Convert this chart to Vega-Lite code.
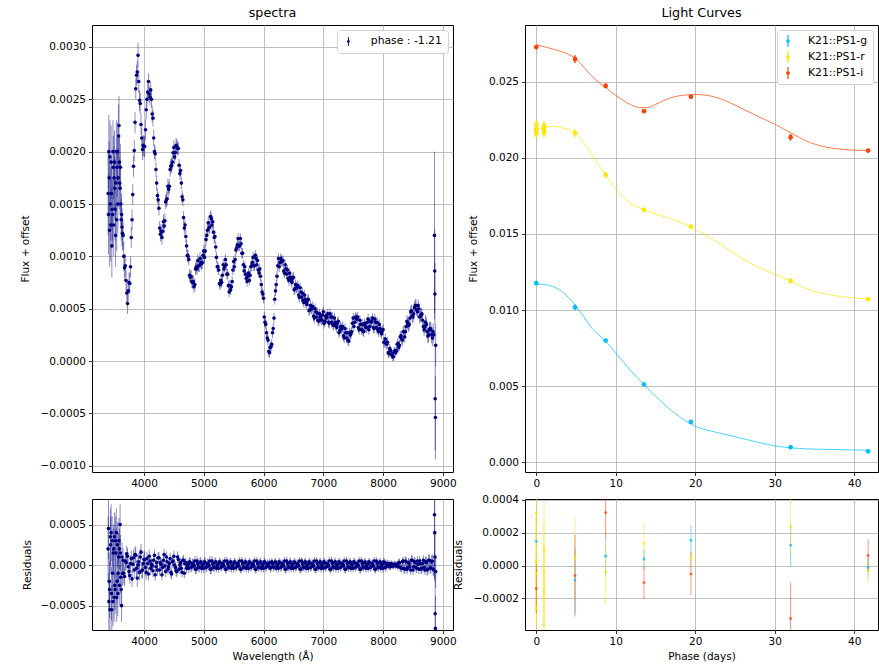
{
  "$schema": "https://vega.github.io/schema/vega-lite/v6.json",
  "background": "white",
  "padding": {"left": 19, "top": 6, "right": 0, "bottom": 0},
  "config": {
    "font": "DejaVu Sans",
    "view": {"stroke": "#000000", "strokeWidth": 1},
    "axis": {
      "labelFont": "DejaVu Sans", "labelFontSize": 10.5, "labelColor": "#000000",
      "tickColor": "#000000", "tickSize": 3.5, "tickWidth": 0.8, "domain": false,
      "grid": true, "gridColor": "#b0b0b0", "gridWidth": 0.8,
      "titleFont": "DejaVu Sans", "titleFontSize": 10.5, "titleFontWeight": "normal", "titleColor": "#000000",
      "labelPadding": 3
    },
    "title": {"font": "DejaVu Sans", "fontSize": 12.75, "fontWeight": "normal", "color": "#000000", "offset": 5, "anchor": "middle", "frame": "group"},
    "legend": {
      "labelFont": "DejaVu Sans", "labelFontSize": 10.8, "labelColor": "#000000",
      "strokeColor": "#d0d0d0", "fillColor": "#ffffff", "cornerRadius": 3, "padding": 5,
      "symbolOpacity": 1, "symbolStrokeWidth": 0
    }
  },
  "datasets": {
    "spec": [
      {"w":3400,"f":0.00160,"e":0.00040,"r":0.00020},
      {"w":3412,"f":0.00200,"e":0.00035,"r":-0.00045},
      {"w":3425,"f":0.00125,"e":0.00035,"r":-0.00030},
      {"w":3437,"f":0.00150,"e":0.00035,"r":0.00035},
      {"w":3450,"f":0.00190,"e":0.00035,"r":0.00040},
      {"w":3462,"f":0.00110,"e":0.00030,"r":-0.00055},
      {"w":3475,"f":0.00140,"e":0.00030,"r":-0.00010},
      {"w":3487,"f":0.00185,"e":0.00030,"r":0.00015},
      {"w":3500,"f":0.00175,"e":0.00030,"r":-0.00040},
      {"w":3512,"f":0.00165,"e":0.00030,"r":-0.00025},
      {"w":3525,"f":0.00120,"e":0.00030,"r":0.00030},
      {"w":3537,"f":0.00200,"e":0.00030,"r":0.00040},
      {"w":3550,"f":0.00185,"e":0.00028,"r":-0.00020},
      {"w":3562,"f":0.00150,"e":0.00028,"r":-0.00035},
      {"w":3575,"f":0.00215,"e":0.00030,"r":0.00010},
      {"w":3587,"f":0.00190,"e":0.00025,"r":0.00020},
      {"w":3600,"f":0.00165,"e":0.00025,"r":0.00050},
      {"w":3612,"f":0.00150,"e":0.00020,"r":-0.00015},
      {"w":3625,"f":0.00140,"e":0.00020,"r":-0.00050},
      {"w":3406,"f":0.00140,"e":0.00038,"r":0.00045},
      {"w":3418,"f":0.00175,"e":0.00035,"r":-0.00020},
      {"w":3431,"f":0.00195,"e":0.00035,"r":-0.00055},
      {"w":3443,"f":0.00130,"e":0.00035,"r":0.00025},
      {"w":3456,"f":0.00160,"e":0.00033,"r":-0.00035},
      {"w":3468,"f":0.00145,"e":0.00030,"r":0.00030},
      {"w":3481,"f":0.00200,"e":0.00030,"r":-0.00045},
      {"w":3493,"f":0.00130,"e":0.00030,"r":0.00020},
      {"w":3506,"f":0.00190,"e":0.00030,"r":0.00035},
      {"w":3518,"f":0.00145,"e":0.00030,"r":-0.00030},
      {"w":3531,"f":0.00170,"e":0.00030,"r":0.00015},
      {"w":3543,"f":0.00135,"e":0.00030,"r":-0.00040},
      {"w":3556,"f":0.00200,"e":0.00028,"r":0.00025},
      {"w":3568,"f":0.00175,"e":0.00028,"r":-0.00010},
      {"w":3581,"f":0.00225,"e":0.00028,"r":0.00030},
      {"w":3593,"f":0.00170,"e":0.00025,"r":-0.00025},
      {"w":3606,"f":0.00185,"e":0.00022,"r":0.00015},
      {"w":3618,"f":0.00135,"e":0.00020,"r":-0.00030},
      {"w":3631,"f":0.00128,"e":0.00018,"r":0.00010},
      {"w":3640,"f":0.00122,"e":0.00016,"r":-0.00010},
      {"w":3650,"f":0.00120,"e":0.00015,"r":0.00006},
      {"w":3675,"f":0.00089,"e":0.00012,"r":-0.00014},
      {"w":3700,"f":0.00077,"e":0.00010,"r":0.00003},
      {"w":3725,"f":0.00055,"e":0.00010,"r":0.00011},
      {"w":3750,"f":0.00075,"e":0.00010,"r":-0.00008},
      {"w":3775,"f":0.00090,"e":0.00010,"r":0.00002},
      {"w":3800,"f":0.00135,"e":0.00010,"r":-0.00017},
      {"w":3825,"f":0.00186,"e":0.00010,"r":0.00009},
      {"w":3850,"f":0.00228,"e":0.00010,"r":0.00013},
      {"w":3875,"f":0.00273,"e":0.00010,"r":-0.00004},
      {"w":3900,"f":0.00292,"e":0.00012,"r":0.00000},
      {"w":3925,"f":0.00249,"e":0.00010,"r":-0.00009},
      {"w":3950,"f":0.00226,"e":0.00010,"r":0.00016},
      {"w":3975,"f":0.00202,"e":0.00010,"r":-0.00006},
      {"w":4000,"f":0.00205,"e":0.00010,"r":0.00007},
      {"w":4025,"f":0.00221,"e":0.00010,"r":-0.00003},
      {"w":4050,"f":0.00250,"e":0.00008,"r":0.00008},
      {"w":4075,"f":0.00267,"e":0.00008,"r":-0.00011},
      {"w":4100,"f":0.00252,"e":0.00008,"r":0.00005},
      {"w":4125,"f":0.00250,"e":0.00008,"r":0.00001},
      {"w":4150,"f":0.00232,"e":0.00008,"r":-0.00007},
      {"w":4175,"f":0.00200,"e":0.00007,"r":0.00012},
      {"w":4200,"f":0.00183,"e":0.00007,"r":-0.00002},
      {"w":4225,"f":0.00158,"e":0.00007,"r":-0.00006},
      {"w":4250,"f":0.00146,"e":0.00007,"r":0.00009},
      {"w":4275,"f":0.00121,"e":0.00007,"r":0.00003},
      {"w":4300,"f":0.00118,"e":0.00007,"r":-0.00012},
      {"w":4325,"f":0.00133,"e":0.00007,"r":0.00006},
      {"w":4350,"f":0.00134,"e":0.00007,"r":-0.00001},
      {"w":4375,"f":0.00154,"e":0.00007,"r":0.00010},
      {"w":4400,"f":0.00167,"e":0.00007,"r":-0.00005},
      {"w":4425,"f":0.00167,"e":0.00007,"r":0.00002},
      {"w":4450,"f":0.00186,"e":0.00007,"r":-0.00009},
      {"w":4475,"f":0.00190,"e":0.00007,"r":0.00004},
      {"w":4500,"f":0.00204,"e":0.00007,"r":0.00011},
      {"w":4525,"f":0.00199,"e":0.00007,"r":-0.00003},
      {"w":4550,"f":0.00205,"e":0.00007,"r":-0.00008},
      {"w":4575,"f":0.00203,"e":0.00006,"r":0.00007},
      {"w":4600,"f":0.00179,"e":0.00006,"r":0.00000},
      {"w":4625,"f":0.00170,"e":0.00006,"r":-0.00004},
      {"w":4650,"f":0.00154,"e":0.00006,"r":0.00006},
      {"w":4675,"f":0.00127,"e":0.00006,"r":-0.00010},
      {"w":4700,"f":0.00119,"e":0.00006,"r":0.00003},
      {"w":4725,"f":0.00101,"e":0.00006,"r":-0.00001},
      {"w":4750,"f":0.00097,"e":0.00006,"r":-0.00004},
      {"w":4775,"f":0.00080,"e":0.00006,"r":0.00003},
      {"w":4800,"f":0.00076,"e":0.00006,"r":-0.00002},
      {"w":4825,"f":0.00076,"e":0.00006,"r":0.00001},
      {"w":4850,"f":0.00073,"e":0.00006,"r":0.00005},
      {"w":4875,"f":0.00090,"e":0.00006,"r":-0.00005},
      {"w":4900,"f":0.00096,"e":0.00006,"r":0.00002},
      {"w":4925,"f":0.00091,"e":0.00006,"r":-0.00003},
      {"w":4950,"f":0.00094,"e":0.00006,"r":0.00004},
      {"w":4975,"f":0.00094,"e":0.00006,"r":-0.00001},
      {"w":5000,"f":0.00105,"e":0.00006,"r":-0.00004},
      {"w":5025,"f":0.00105,"e":0.00006,"r":0.00003},
      {"w":5050,"f":0.00120,"e":0.00006,"r":-0.00002},
      {"w":5075,"f":0.00132,"e":0.00006,"r":0.00001},
      {"w":5100,"f":0.00128,"e":0.00006,"r":0.00005},
      {"w":5125,"f":0.00136,"e":0.00006,"r":-0.00005},
      {"w":5150,"f":0.00133,"e":0.00006,"r":0.00002},
      {"w":5175,"f":0.00118,"e":0.00006,"r":-0.00003},
      {"w":5200,"f":0.00109,"e":0.00005,"r":0.00004},
      {"w":5225,"f":0.00090,"e":0.00005,"r":-0.00001},
      {"w":5250,"f":0.00087,"e":0.00005,"r":-0.00004},
      {"w":5275,"f":0.00073,"e":0.00005,"r":0.00003},
      {"w":5300,"f":0.00075,"e":0.00005,"r":-0.00002},
      {"w":5325,"f":0.00092,"e":0.00005,"r":0.00001},
      {"w":5350,"f":0.00090,"e":0.00005,"r":0.00005},
      {"w":5375,"f":0.00092,"e":0.00005,"r":-0.00005},
      {"w":5400,"f":0.00083,"e":0.00005,"r":0.00002},
      {"w":5425,"f":0.00066,"e":0.00005,"r":-0.00003},
      {"w":5450,"f":0.00068,"e":0.00005,"r":0.00004},
      {"w":5475,"f":0.00076,"e":0.00005,"r":-0.00001},
      {"w":5500,"f":0.00095,"e":0.00005,"r":-0.00004},
      {"w":5525,"f":0.00097,"e":0.00005,"r":0.00003},
      {"w":5550,"f":0.00108,"e":0.00005,"r":-0.00002},
      {"w":5575,"f":0.00117,"e":0.00005,"r":0.00001},
      {"w":5600,"f":0.00110,"e":0.00005,"r":0.00005},
      {"w":5625,"f":0.00112,"e":0.00005,"r":-0.00005},
      {"w":5650,"f":0.00103,"e":0.00005,"r":0.00002},
      {"w":5675,"f":0.00086,"e":0.00005,"r":-0.00003},
      {"w":5700,"f":0.00083,"e":0.00005,"r":0.00004},
      {"w":5725,"f":0.00076,"e":0.00005,"r":-0.00001},
      {"w":5750,"f":0.00084,"e":0.00005,"r":-0.00004},
      {"w":5775,"f":0.00082,"e":0.00005,"r":0.00003},
      {"w":5800,"f":0.00091,"e":0.00005,"r":-0.00002},
      {"w":5825,"f":0.00099,"e":0.00005,"r":0.00001},
      {"w":5850,"f":0.00091,"e":0.00005,"r":0.00005},
      {"w":5875,"f":0.00098,"e":0.00005,"r":-0.00005},
      {"w":5900,"f":0.00096,"e":0.00005,"r":0.00002},
      {"w":5925,"f":0.00084,"e":0.00005,"r":-0.00003},
      {"w":5950,"f":0.00081,"e":0.00005,"r":0.00004},
      {"w":5975,"f":0.00066,"e":0.00005,"r":-0.00001},
      {"w":6000,"f":0.00060,"e":0.00005,"r":-0.00004},
      {"w":6025,"f":0.00037,"e":0.00005,"r":0.00003},
      {"w":6050,"f":0.00027,"e":0.00005,"r":-0.00002},
      {"w":6075,"f":0.00020,"e":0.00005,"r":0.00001},
      {"w":6100,"f":0.00008,"e":0.00005,"r":0.00003},
      {"w":6125,"f":0.00014,"e":0.00005,"r":-0.00003},
      {"w":6150,"f":0.00027,"e":0.00005,"r":0.00002},
      {"w":6175,"f":0.00041,"e":0.00005,"r":-0.00003},
      {"w":6200,"f":0.00067,"e":0.00005,"r":0.00004},
      {"w":6225,"f":0.00081,"e":0.00005,"r":-0.00001},
      {"w":6250,"f":0.00098,"e":0.00005,"r":-0.00004},
      {"w":6275,"f":0.00094,"e":0.00005,"r":0.00003},
      {"w":6300,"f":0.00096,"e":0.00005,"r":-0.00002},
      {"w":6325,"f":0.00096,"e":0.00005,"r":0.00001},
      {"w":6350,"f":0.00084,"e":0.00005,"r":0.00005},
      {"w":6375,"f":0.00088,"e":0.00005,"r":-0.00005},
      {"w":6400,"f":0.00087,"e":0.00005,"r":0.00002},
      {"w":6425,"f":0.00077,"e":0.00005,"r":-0.00003},
      {"w":6450,"f":0.00080,"e":0.00005,"r":0.00004},
      {"w":6475,"f":0.00075,"e":0.00005,"r":-0.00001},
      {"w":6500,"f":0.00080,"e":0.00005,"r":-0.00004},
      {"w":6525,"f":0.00069,"e":0.00005,"r":0.00003},
      {"w":6550,"f":0.00070,"e":0.00005,"r":-0.00002},
      {"w":6575,"f":0.00072,"e":0.00005,"r":0.00001},
      {"w":6600,"f":0.00061,"e":0.00005,"r":0.00005},
      {"w":6625,"f":0.00066,"e":0.00005,"r":-0.00005},
      {"w":6650,"f":0.00065,"e":0.00005,"r":0.00002},
      {"w":6675,"f":0.00056,"e":0.00005,"r":-0.00003},
      {"w":6700,"f":0.00059,"e":0.00005,"r":0.00004},
      {"w":6725,"f":0.00054,"e":0.00005,"r":-0.00001},
      {"w":6750,"f":0.00059,"e":0.00005,"r":-0.00004},
      {"w":6775,"f":0.00049,"e":0.00005,"r":0.00003},
      {"w":6800,"f":0.00050,"e":0.00005,"r":-0.00002},
      {"w":6825,"f":0.00052,"e":0.00005,"r":0.00001},
      {"w":6850,"f":0.00041,"e":0.00005,"r":0.00005},
      {"w":6875,"f":0.00047,"e":0.00005,"r":-0.00005},
      {"w":6900,"f":0.00046,"e":0.00005,"r":0.00002},
      {"w":6925,"f":0.00038,"e":0.00005,"r":-0.00003},
      {"w":6950,"f":0.00042,"e":0.00005,"r":0.00004},
      {"w":6975,"f":0.00039,"e":0.00005,"r":-0.00001},
      {"w":7000,"f":0.00047,"e":0.00005,"r":-0.00004},
      {"w":7025,"f":0.00038,"e":0.00005,"r":0.00003},
      {"w":7050,"f":0.00041,"e":0.00005,"r":-0.00002},
      {"w":7075,"f":0.00045,"e":0.00005,"r":0.00001},
      {"w":7100,"f":0.00036,"e":0.00005,"r":0.00005},
      {"w":7125,"f":0.00042,"e":0.00005,"r":-0.00005},
      {"w":7150,"f":0.00042,"e":0.00005,"r":0.00002},
      {"w":7175,"f":0.00034,"e":0.00005,"r":-0.00003},
      {"w":7200,"f":0.00037,"e":0.00005,"r":0.00004},
      {"w":7225,"f":0.00032,"e":0.00005,"r":-0.00001},
      {"w":7250,"f":0.00038,"e":0.00005,"r":-0.00004},
      {"w":7275,"f":0.00029,"e":0.00005,"r":0.00003},
      {"w":7300,"f":0.00031,"e":0.00005,"r":-0.00002},
      {"w":7325,"f":0.00033,"e":0.00005,"r":0.00001},
      {"w":7350,"f":0.00022,"e":0.00005,"r":0.00005},
      {"w":7375,"f":0.00027,"e":0.00005,"r":-0.00005},
      {"w":7400,"f":0.00027,"e":0.00005,"r":0.00002},
      {"w":7425,"f":0.00019,"e":0.00005,"r":-0.00003},
      {"w":7450,"f":0.00025,"e":0.00005,"r":0.00004},
      {"w":7475,"f":0.00028,"e":0.00005,"r":-0.00001},
      {"w":7500,"f":0.00041,"e":0.00005,"r":-0.00004},
      {"w":7525,"f":0.00037,"e":0.00005,"r":0.00003},
      {"w":7550,"f":0.00041,"e":0.00005,"r":-0.00002},
      {"w":7575,"f":0.00042,"e":0.00005,"r":0.00001},
      {"w":7600,"f":0.00030,"e":0.00005,"r":0.00005},
      {"w":7625,"f":0.00035,"e":0.00005,"r":-0.00005},
      {"w":7650,"f":0.00035,"e":0.00005,"r":0.00002},
      {"w":7675,"f":0.00028,"e":0.00005,"r":-0.00003},
      {"w":7700,"f":0.00034,"e":0.00005,"r":0.00004},
      {"w":7725,"f":0.00032,"e":0.00005,"r":-0.00001},
      {"w":7750,"f":0.00040,"e":0.00005,"r":-0.00004},
      {"w":7775,"f":0.00033,"e":0.00005,"r":0.00003},
      {"w":7800,"f":0.00037,"e":0.00005,"r":-0.00002},
      {"w":7825,"f":0.00041,"e":0.00005,"r":0.00001},
      {"w":7850,"f":0.00031,"e":0.00005,"r":0.00005},
      {"w":7875,"f":0.00037,"e":0.00005,"r":-0.00005},
      {"w":7900,"f":0.00037,"e":0.00005,"r":0.00002},
      {"w":7925,"f":0.00028,"e":0.00005,"r":-0.00003},
      {"w":7950,"f":0.00031,"e":0.00005,"r":0.00004},
      {"w":7975,"f":0.00026,"e":0.00005,"r":-0.00001},
      {"w":8000,"f":0.00030,"e":0.00005,"r":-0.00004},
      {"w":8025,"f":0.00018,"e":0.00005,"r":0.00003},
      {"w":8050,"f":0.00017,"e":0.00005,"r":-0.00002},
      {"w":8075,"f":0.00018,"e":0.00005,"r":0.00001},
      {"w":8100,"f":0.00007,"e":0.00004,"r":0.00002},
      {"w":8125,"f":0.00010,"e":0.00004,"r":-0.00002},
      {"w":8150,"f":0.00007,"e":0.00004,"r":0.00001},
      {"w":8175,"f":0.00004,"e":0.00004,"r":-0.00001},
      {"w":8200,"f":0.00010,"e":0.00004,"r":0.00001},
      {"w":8225,"f":0.00010,"e":0.00004,"r":0.00000},
      {"w":8250,"f":0.00017,"e":0.00005,"r":-0.00002},
      {"w":8275,"f":0.00015,"e":0.00005,"r":0.00003},
      {"w":8300,"f":0.00024,"e":0.00005,"r":-0.00003},
      {"w":8325,"f":0.00020,"e":0.00005,"r":0.00004},
      {"w":8350,"f":0.00028,"e":0.00006,"r":-0.00004},
      {"w":8375,"f":0.00028,"e":0.00006,"r":0.00005},
      {"w":8400,"f":0.00038,"e":0.00006,"r":-0.00005},
      {"w":8425,"f":0.00034,"e":0.00006,"r":0.00003},
      {"w":8450,"f":0.00041,"e":0.00006,"r":-0.00002},
      {"w":8475,"f":0.00048,"e":0.00006,"r":0.00006},
      {"w":8500,"f":0.00042,"e":0.00006,"r":-0.00006},
      {"w":8525,"f":0.00051,"e":0.00006,"r":0.00004},
      {"w":8550,"f":0.00053,"e":0.00006,"r":-0.00003},
      {"w":8575,"f":0.00047,"e":0.00006,"r":0.00005},
      {"w":8600,"f":0.00050,"e":0.00006,"r":-0.00005},
      {"w":8625,"f":0.00043,"e":0.00006,"r":0.00002},
      {"w":8650,"f":0.00045,"e":0.00006,"r":-0.00004},
      {"w":8675,"f":0.00033,"e":0.00006,"r":0.00006},
      {"w":8700,"f":0.00033,"e":0.00006,"r":-0.00006},
      {"w":8725,"f":0.00035,"e":0.00007,"r":0.00003},
      {"w":8750,"f":0.00024,"e":0.00007,"r":-0.00005},
      {"w":8775,"f":0.00030,"e":0.00007,"r":0.00006},
      {"w":8800,"f":0.00030,"e":0.00007,"r":-0.00004},
      {"w":8825,"f":0.00022,"e":0.00008,"r":0.00005},
      {"w":8850,"f":0.00025,"e":0.00008,"r":-0.00006},
      {"w":8860,"f":0.00120,"e":0.00080,"r":0.00062},
      {"w":8864,"f":0.00086,"e":0.00040,"r":0.00040},
      {"w":8868,"f":0.00064,"e":0.00030,"r":0.00010},
      {"w":8872,"f":-0.00036,"e":0.00050,"r":-0.00060},
      {"w":8876,"f":-0.00054,"e":0.00040,"r":-0.00078},
      {"w":8880,"f":0.00015,"e":0.00020,"r":-0.00008},
      {"w":3662,"f":0.00100,"e":0.00014,"r":-0.00010},
      {"w":3687,"f":0.00091,"e":0.00011,"r":0.00005},
      {"w":3712,"f":0.00065,"e":0.00010,"r":0.00014},
      {"w":3737,"f":0.00067,"e":0.00010,"r":-0.00002},
      {"w":3762,"f":0.00074,"e":0.00010,"r":-0.00013},
      {"w":3787,"f":0.00118,"e":0.00010,"r":0.00008},
      {"w":3812,"f":0.00159,"e":0.00010,"r":0.00001},
      {"w":3837,"f":0.00201,"e":0.00010,"r":-0.00006},
      {"w":3862,"f":0.00260,"e":0.00010,"r":0.00012},
      {"w":3887,"f":0.00276,"e":0.00011,"r":-0.00016},
      {"w":3912,"f":0.00267,"e":0.00011,"r":0.00004},
      {"w":3937,"f":0.00246,"e":0.00010,"r":0.00010},
      {"w":3962,"f":0.00213,"e":0.00010,"r":-0.00007},
      {"w":3987,"f":0.00206,"e":0.00010,"r":0.00002},
      {"w":4012,"f":0.00205,"e":0.00010,"r":0.00007},
      {"w":4037,"f":0.00240,"e":0.00009,"r":-0.00009},
      {"w":4062,"f":0.00257,"e":0.00008,"r":0.00002},
      {"w":4087,"f":0.00255,"e":0.00008,"r":0.00011},
      {"w":4112,"f":0.00259,"e":0.00008,"r":-0.00004},
      {"w":4137,"f":0.00236,"e":0.00008,"r":-0.00001},
      {"w":4162,"f":0.00213,"e":0.00008,"r":0.00006},
      {"w":4187,"f":0.00198,"e":0.00007,"r":-0.00012},
      {"w":4212,"f":0.00170,"e":0.00007,"r":0.00003},
      {"w":4237,"f":0.00154,"e":0.00007,"r":0.00009},
      {"w":4262,"f":0.00127,"e":0.00007,"r":-0.00006},
      {"w":4287,"f":0.00124,"e":0.00007,"r":0.00001},
      {"w":4312,"f":0.00124,"e":0.00007,"r":-0.00003},
      {"w":4337,"f":0.00129,"e":0.00007,"r":0.00013},
      {"w":4362,"f":0.00152,"e":0.00007,"r":-0.00008},
      {"w":4387,"f":0.00155,"e":0.00007,"r":0.00004},
      {"w":4412,"f":0.00164,"e":0.00007,"r":-0.00002},
      {"w":4437,"f":0.00183,"e":0.00007,"r":0.00008},
      {"w":4462,"f":0.00187,"e":0.00007,"r":-0.00011},
      {"w":4487,"f":0.00199,"e":0.00007,"r":0.00005},
      {"w":4512,"f":0.00195,"e":0.00007,"r":0.00000},
      {"w":4537,"f":0.00206,"e":0.00007,"r":-0.00007},
      {"w":4562,"f":0.00203,"e":0.00007,"r":0.00010},
      {"w":4587,"f":0.00187,"e":0.00006,"r":-0.00005},
      {"w":4612,"f":0.00182,"e":0.00006,"r":0.00003},
      {"w":4637,"f":0.00157,"e":0.00006,"r":-0.00009},
      {"w":4662,"f":0.00137,"e":0.00006,"r":0.00006},
      {"w":4687,"f":0.00130,"e":0.00006,"r":0.00002},
      {"w":4712,"f":0.00110,"e":0.00006,"r":-0.00004},
      {"w":4737,"f":0.00100,"e":0.00006,"r":0.00001},
      {"w":4762,"f":0.00082,"e":0.00006,"r":0.00004},
      {"w":4787,"f":0.00081,"e":0.00006,"r":-0.00003},
      {"w":4812,"f":0.00075,"e":0.00006,"r":0.00002},
      {"w":4837,"f":0.00071,"e":0.00006,"r":-0.00001},
      {"w":4862,"f":0.00088,"e":0.00006,"r":-0.00005},
      {"w":4887,"f":0.00088,"e":0.00006,"r":0.00005},
      {"w":4912,"f":0.00091,"e":0.00006,"r":-0.00002},
      {"w":4937,"f":0.00098,"e":0.00006,"r":0.00003},
      {"w":4962,"f":0.00093,"e":0.00006,"r":-0.00004},
      {"w":4987,"f":0.00101,"e":0.00006,"r":0.00001},
      {"w":5012,"f":0.00099,"e":0.00006,"r":0.00004},
      {"w":5037,"f":0.00116,"e":0.00006,"r":-0.00003},
      {"w":5062,"f":0.00125,"e":0.00006,"r":0.00002},
      {"w":5087,"f":0.00127,"e":0.00006,"r":-0.00001},
      {"w":5112,"f":0.00138,"e":0.00006,"r":-0.00005},
      {"w":5137,"f":0.00130,"e":0.00006,"r":0.00005},
      {"w":5162,"f":0.00123,"e":0.00006,"r":-0.00002},
      {"w":5187,"f":0.00119,"e":0.00006,"r":0.00003},
      {"w":5212,"f":0.00099,"e":0.00005,"r":-0.00004},
      {"w":5237,"f":0.00090,"e":0.00005,"r":0.00001},
      {"w":5262,"f":0.00074,"e":0.00005,"r":0.00004},
      {"w":5287,"f":0.00077,"e":0.00005,"r":-0.00003},
      {"w":5312,"f":0.00082,"e":0.00005,"r":0.00002},
      {"w":5337,"f":0.00088,"e":0.00005,"r":-0.00001},
      {"w":5362,"f":0.00097,"e":0.00005,"r":-0.00005},
      {"w":5387,"f":0.00083,"e":0.00005,"r":0.00005},
      {"w":5412,"f":0.00072,"e":0.00005,"r":-0.00002},
      {"w":5437,"f":0.00072,"e":0.00005,"r":0.00003},
      {"w":5462,"f":0.00071,"e":0.00005,"r":-0.00004},
      {"w":5487,"f":0.00087,"e":0.00005,"r":0.00001},
      {"w":5512,"f":0.00090,"e":0.00005,"r":0.00004},
      {"w":5537,"f":0.00106,"e":0.00005,"r":-0.00003},
      {"w":5562,"f":0.00111,"e":0.00005,"r":0.00002},
      {"w":5587,"f":0.00110,"e":0.00005,"r":-0.00001},
      {"w":5612,"f":0.00117,"e":0.00005,"r":-0.00005},
      {"w":5637,"f":0.00103,"e":0.00005,"r":0.00005},
      {"w":5662,"f":0.00092,"e":0.00005,"r":-0.00002},
      {"w":5687,"f":0.00090,"e":0.00005,"r":0.00003},
      {"w":5712,"f":0.00079,"e":0.00005,"r":-0.00004},
      {"w":5737,"f":0.00081,"e":0.00005,"r":0.00001},
      {"w":5762,"f":0.00077,"e":0.00005,"r":0.00004},
      {"w":5787,"f":0.00090,"e":0.00005,"r":-0.00003},
      {"w":5812,"f":0.00094,"e":0.00005,"r":0.00002},
      {"w":5837,"f":0.00091,"e":0.00005,"r":-0.00001},
      {"w":5862,"f":0.00101,"e":0.00005,"r":-0.00005},
      {"w":5887,"f":0.00092,"e":0.00005,"r":0.00005},
      {"w":5912,"f":0.00087,"e":0.00005,"r":-0.00002},
      {"w":5937,"f":0.00088,"e":0.00005,"r":0.00003},
      {"w":5962,"f":0.00073,"e":0.00005,"r":-0.00004},
      {"w":5987,"f":0.00064,"e":0.00005,"r":0.00001},
      {"w":6012,"f":0.00042,"e":0.00005,"r":0.00004},
      {"w":6037,"f":0.00035,"e":0.00005,"r":-0.00003},
      {"w":6062,"f":0.00022,"e":0.00005,"r":0.00002},
      {"w":6087,"f":0.00009,"e":0.00005,"r":-0.00001},
      {"w":6112,"f":0.00013,"e":0.00005,"r":-0.00004},
      {"w":6137,"f":0.00016,"e":0.00005,"r":0.00004},
      {"w":6162,"f":0.00031,"e":0.00005,"r":-0.00002},
      {"w":6187,"f":0.00059,"e":0.00005,"r":0.00003},
      {"w":6212,"f":0.00073,"e":0.00005,"r":-0.00004},
      {"w":6237,"f":0.00091,"e":0.00005,"r":0.00001},
      {"w":6262,"f":0.00090,"e":0.00005,"r":0.00004},
      {"w":6287,"f":0.00098,"e":0.00005,"r":-0.00003},
      {"w":6312,"f":0.00095,"e":0.00005,"r":0.00002},
      {"w":6337,"f":0.00086,"e":0.00005,"r":-0.00001},
      {"w":6362,"f":0.00092,"e":0.00005,"r":-0.00005},
      {"w":6387,"f":0.00083,"e":0.00005,"r":0.00005},
      {"w":6412,"f":0.00079,"e":0.00005,"r":-0.00002},
      {"w":6437,"f":0.00084,"e":0.00005,"r":0.00003},
      {"w":6462,"f":0.00077,"e":0.00005,"r":-0.00004},
      {"w":6487,"f":0.00079,"e":0.00005,"r":0.00001},
      {"w":6512,"f":0.00068,"e":0.00005,"r":0.00004},
      {"w":6537,"f":0.00073,"e":0.00005,"r":-0.00003},
      {"w":6562,"f":0.00070,"e":0.00005,"r":0.00002},
      {"w":6587,"f":0.00063,"e":0.00005,"r":-0.00001},
      {"w":6612,"f":0.00070,"e":0.00005,"r":-0.00005},
      {"w":6637,"f":0.00061,"e":0.00005,"r":0.00005},
      {"w":6662,"f":0.00058,"e":0.00005,"r":-0.00002},
      {"w":6687,"f":0.00063,"e":0.00005,"r":0.00003},
      {"w":6712,"f":0.00056,"e":0.00005,"r":-0.00004},
      {"w":6737,"f":0.00058,"e":0.00005,"r":0.00001},
      {"w":6762,"f":0.00048,"e":0.00005,"r":0.00004},
      {"w":6787,"f":0.00053,"e":0.00005,"r":-0.00003},
      {"w":6812,"f":0.00050,"e":0.00005,"r":0.00002},
      {"w":6837,"f":0.00043,"e":0.00005,"r":-0.00001},
      {"w":6862,"f":0.00050,"e":0.00005,"r":-0.00005},
      {"w":6887,"f":0.00042,"e":0.00005,"r":0.00005},
      {"w":6912,"f":0.00039,"e":0.00005,"r":-0.00002},
      {"w":6937,"f":0.00045,"e":0.00005,"r":0.00003},
      {"w":6962,"f":0.00040,"e":0.00005,"r":-0.00004},
      {"w":6987,"f":0.00044,"e":0.00005,"r":0.00001},
      {"w":7012,"f":0.00036,"e":0.00005,"r":0.00004},
      {"w":7037,"f":0.00043,"e":0.00005,"r":-0.00003},
      {"w":7062,"f":0.00042,"e":0.00005,"r":0.00002},
      {"w":7087,"f":0.00037,"e":0.00005,"r":-0.00001},
      {"w":7112,"f":0.00045,"e":0.00005,"r":-0.00005},
      {"w":7137,"f":0.00037,"e":0.00005,"r":0.00005},
      {"w":7162,"f":0.00035,"e":0.00005,"r":-0.00002},
      {"w":7187,"f":0.00041,"e":0.00005,"r":0.00003},
      {"w":7212,"f":0.00034,"e":0.00005,"r":-0.00004},
      {"w":7237,"f":0.00036,"e":0.00005,"r":0.00001},
      {"w":7262,"f":0.00027,"e":0.00005,"r":0.00004},
      {"w":7287,"f":0.00033,"e":0.00005,"r":-0.00003},
      {"w":7312,"f":0.00031,"e":0.00005,"r":0.00002},
      {"w":7337,"f":0.00024,"e":0.00005,"r":-0.00001},
      {"w":7362,"f":0.00031,"e":0.00005,"r":-0.00005},
      {"w":7387,"f":0.00022,"e":0.00005,"r":0.00005},
      {"w":7412,"f":0.00020,"e":0.00005,"r":-0.00002},
      {"w":7437,"f":0.00027,"e":0.00005,"r":0.00003},
      {"w":7462,"f":0.00026,"e":0.00005,"r":-0.00004},
      {"w":7487,"f":0.00036,"e":0.00005,"r":0.00001},
      {"w":7512,"f":0.00033,"e":0.00005,"r":0.00004},
      {"w":7537,"f":0.00042,"e":0.00005,"r":-0.00003},
      {"w":7562,"f":0.00040,"e":0.00005,"r":0.00002},
      {"w":7587,"f":0.00032,"e":0.00005,"r":-0.00001},
      {"w":7612,"f":0.00039,"e":0.00005,"r":-0.00005},
      {"w":7637,"f":0.00030,"e":0.00005,"r":0.00005},
      {"w":7662,"f":0.00029,"e":0.00005,"r":-0.00002},
      {"w":7687,"f":0.00036,"e":0.00005,"r":0.00003},
      {"w":7712,"f":0.00032,"e":0.00005,"r":-0.00004},
      {"w":7737,"f":0.00037,"e":0.00005,"r":0.00001},
      {"w":7762,"f":0.00030,"e":0.00005,"r":0.00004},
      {"w":7787,"f":0.00038,"e":0.00005,"r":-0.00003},
      {"w":7812,"f":0.00038,"e":0.00005,"r":0.00002},
      {"w":7837,"f":0.00032,"e":0.00005,"r":-0.00001},
      {"w":7862,"f":0.00040,"e":0.00005,"r":-0.00005},
      {"w":7887,"f":0.00032,"e":0.00005,"r":0.00005},
      {"w":7912,"f":0.00030,"e":0.00005,"r":-0.00002},
      {"w":7937,"f":0.00035,"e":0.00005,"r":0.00003},
      {"w":7962,"f":0.00028,"e":0.00005,"r":-0.00004},
      {"w":7987,"f":0.00029,"e":0.00005,"r":0.00001},
      {"w":8012,"f":0.00018,"e":0.00005,"r":0.00004},
      {"w":8037,"f":0.00021,"e":0.00005,"r":-0.00003},
      {"w":8062,"f":0.00016,"e":0.00005,"r":0.00002},
      {"w":8087,"f":0.00008,"e":0.00005,"r":-0.00001},
      {"w":8112,"f":0.00012,"e":0.00004,"r":-0.00002},
      {"w":8137,"f":0.00006,"e":0.00004,"r":0.00002},
      {"w":8162,"f":0.00004,"e":0.00004,"r":-0.00001},
      {"w":8187,"f":0.00009,"e":0.00004,"r":0.00001},
      {"w":8212,"f":0.00008,"e":0.00004,"r":-0.00001},
      {"w":8237,"f":0.00016,"e":0.00004,"r":0.00001},
      {"w":8262,"f":0.00013,"e":0.00005,"r":0.00003},
      {"w":8287,"f":0.00023,"e":0.00005,"r":-0.00003},
      {"w":8312,"f":0.00021,"e":0.00005,"r":-0.00004},
      {"w":8337,"f":0.00028,"e":0.00005,"r":0.00005},
      {"w":8362,"f":0.00023,"e":0.00006,"r":-0.00005},
      {"w":8387,"f":0.00033,"e":0.00006,"r":0.00004},
      {"w":8412,"f":0.00036,"e":0.00006,"r":-0.00003},
      {"w":8437,"f":0.00035,"e":0.00006,"r":0.00002},
      {"w":8462,"f":0.00047,"e":0.00006,"r":-0.00006},
      {"w":8487,"f":0.00043,"e":0.00006,"r":0.00006},
      {"w":8512,"f":0.00045,"e":0.00006,"r":-0.00002},
      {"w":8537,"f":0.00053,"e":0.00006,"r":0.00003},
      {"w":8562,"f":0.00049,"e":0.00006,"r":-0.00004},
      {"w":8587,"f":0.00053,"e":0.00006,"r":0.00001},
      {"w":8612,"f":0.00042,"e":0.00006,"r":0.00005},
      {"w":8637,"f":0.00044,"e":0.00006,"r":-0.00005},
      {"w":8662,"f":0.00039,"e":0.00006,"r":0.00002},
      {"w":8687,"f":0.00030,"e":0.00006,"r":-0.00003},
      {"w":8712,"f":0.00037,"e":0.00007,"r":0.00004},
      {"w":8737,"f":0.00028,"e":0.00007,"r":-0.00006},
      {"w":8762,"f":0.00025,"e":0.00007,"r":0.00006},
      {"w":8787,"f":0.00031,"e":0.00007,"r":-0.00003},
      {"w":8812,"f":0.00025,"e":0.00008,"r":0.00004},
      {"w":8837,"f":0.00028,"e":0.00008,"r":-0.00005}
    ],
    "lc": [
      {"band":"K21::PS1-g","phase":0.0,"flux":0.01176,"err":0.00015,"resid":0.000148},
      {"band":"K21::PS1-g","phase":4.87,"flux":0.01018,"err":0.00020,"resid":-0.000088},
      {"band":"K21::PS1-g","phase":8.73,"flux":0.00799,"err":0.00012,"resid":0.000057},
      {"band":"K21::PS1-g","phase":13.55,"flux":0.00512,"err":0.00006,"resid":0.000040},
      {"band":"K21::PS1-g","phase":19.46,"flux":0.00265,"err":0.00009,"resid":0.000154},
      {"band":"K21::PS1-g","phase":32.0,"flux":0.00099,"err":0.00013,"resid":0.000124},
      {"band":"K21::PS1-g","phase":41.76,"flux":0.00072,"err":0.00006,"resid":-0.000012},
      {"band":"K21::PS1-r","phase":0.0,"flux":0.02217,"err":0.00030,"resid":0.000320},
      {"band":"K21::PS1-r","phase":0.0,"flux":0.02188,"err":0.00030,"resid":0.000026},
      {"band":"K21::PS1-r","phase":0.0,"flux":0.02180,"err":0.00030,"resid":-0.000049},
      {"band":"K21::PS1-r","phase":0.0,"flux":0.02159,"err":0.00030,"resid":-0.000260},
      {"band":"K21::PS1-r","phase":0.97,"flux":0.02209,"err":0.00030,"resid":0.000093},
      {"band":"K21::PS1-r","phase":0.97,"flux":0.02196,"err":0.00030,"resid":-0.000039},
      {"band":"K21::PS1-r","phase":0.97,"flux":0.02184,"err":0.00030,"resid":-0.000160},
      {"band":"K21::PS1-r","phase":0.97,"flux":0.02164,"err":0.00030,"resid":-0.000360},
      {"band":"K21::PS1-r","phase":4.87,"flux":0.02162,"err":0.00025,"resid":0.000043},
      {"band":"K21::PS1-r","phase":8.73,"flux":0.01888,"err":0.00020,"resid":-0.000039},
      {"band":"K21::PS1-r","phase":13.55,"flux":0.01658,"err":0.00013,"resid":0.000134},
      {"band":"K21::PS1-r","phase":19.46,"flux":0.01548,"err":0.00004,"resid":0.000046},
      {"band":"K21::PS1-r","phase":32.0,"flux":0.01191,"err":0.00017,"resid":0.000235},
      {"band":"K21::PS1-r","phase":41.76,"flux":0.01071,"err":0.00007,"resid":-0.000029},
      {"band":"K21::PS1-i","phase":0.0,"flux":0.02727,"err":0.00015,"resid":-0.000140},
      {"band":"K21::PS1-i","phase":4.87,"flux":0.02648,"err":0.00025,"resid":-0.000061},
      {"band":"K21::PS1-i","phase":8.73,"flux":0.02472,"err":0.00015,"resid":0.000323},
      {"band":"K21::PS1-i","phase":13.55,"flux":0.02306,"err":0.00010,"resid":-0.000104},
      {"band":"K21::PS1-i","phase":19.46,"flux":0.02400,"err":0.00013,"resid":-0.000051},
      {"band":"K21::PS1-i","phase":32.0,"flux":0.02135,"err":0.00022,"resid":-0.000323},
      {"band":"K21::PS1-i","phase":41.76,"flux":0.02047,"err":0.00010,"resid":0.000061}
    ],
    "model": [
      {"band":"K21::PS1-g","phase":0,"flux":0.01170},{"band":"K21::PS1-g","phase":1,"flux":0.01168},
      {"band":"K21::PS1-g","phase":2,"flux":0.01155},{"band":"K21::PS1-g","phase":3,"flux":0.01130},
      {"band":"K21::PS1-g","phase":4,"flux":0.01085},{"band":"K21::PS1-g","phase":5,"flux":0.01025},
      {"band":"K21::PS1-g","phase":6,"flux":0.00955},{"band":"K21::PS1-g","phase":7,"flux":0.00880},
      {"band":"K21::PS1-g","phase":8,"flux":0.00830},{"band":"K21::PS1-g","phase":9,"flux":0.00780},
      {"band":"K21::PS1-g","phase":10,"flux":0.00718},{"band":"K21::PS1-g","phase":11,"flux":0.00655},
      {"band":"K21::PS1-g","phase":12,"flux":0.00595},{"band":"K21::PS1-g","phase":13,"flux":0.00540},
      {"band":"K21::PS1-g","phase":14,"flux":0.00485},{"band":"K21::PS1-g","phase":15,"flux":0.00435},
      {"band":"K21::PS1-g","phase":16,"flux":0.00385},{"band":"K21::PS1-g","phase":17,"flux":0.00340},
      {"band":"K21::PS1-g","phase":18,"flux":0.00300},{"band":"K21::PS1-g","phase":19,"flux":0.00265},
      {"band":"K21::PS1-g","phase":20,"flux":0.00236},{"band":"K21::PS1-g","phase":22,"flux":0.00205},
      {"band":"K21::PS1-g","phase":24,"flux":0.00180},{"band":"K21::PS1-g","phase":26,"flux":0.00155},
      {"band":"K21::PS1-g","phase":28,"flux":0.00130},{"band":"K21::PS1-g","phase":30,"flux":0.00108},
      {"band":"K21::PS1-g","phase":32,"flux":0.00095},{"band":"K21::PS1-g","phase":34,"flux":0.00088},
      {"band":"K21::PS1-g","phase":36,"flux":0.00085},{"band":"K21::PS1-g","phase":38,"flux":0.00083},
      {"band":"K21::PS1-g","phase":40,"flux":0.00081},{"band":"K21::PS1-g","phase":41.8,"flux":0.00079},
      {"band":"K21::PS1-r","phase":0,"flux":0.02185},{"band":"K21::PS1-r","phase":1,"flux":0.02200},
      {"band":"K21::PS1-r","phase":2,"flux":0.02205},{"band":"K21::PS1-r","phase":3,"flux":0.02200},
      {"band":"K21::PS1-r","phase":4,"flux":0.02185},{"band":"K21::PS1-r","phase":5,"flux":0.02155},
      {"band":"K21::PS1-r","phase":6,"flux":0.02095},{"band":"K21::PS1-r","phase":7,"flux":0.02020},
      {"band":"K21::PS1-r","phase":8,"flux":0.01940},{"band":"K21::PS1-r","phase":9,"flux":0.01865},
      {"band":"K21::PS1-r","phase":10,"flux":0.01795},{"band":"K21::PS1-r","phase":11,"flux":0.01735},
      {"band":"K21::PS1-r","phase":12,"flux":0.01695},{"band":"K21::PS1-r","phase":13,"flux":0.01670},
      {"band":"K21::PS1-r","phase":14,"flux":0.01650},{"band":"K21::PS1-r","phase":15,"flux":0.01632},
      {"band":"K21::PS1-r","phase":16,"flux":0.01615},{"band":"K21::PS1-r","phase":17,"flux":0.01598},
      {"band":"K21::PS1-r","phase":18,"flux":0.01578},{"band":"K21::PS1-r","phase":19,"flux":0.01556},
      {"band":"K21::PS1-r","phase":20,"flux":0.01530},{"band":"K21::PS1-r","phase":22,"flux":0.01470},
      {"band":"K21::PS1-r","phase":24,"flux":0.01405},{"band":"K21::PS1-r","phase":26,"flux":0.01335},
      {"band":"K21::PS1-r","phase":28,"flux":0.01280},{"band":"K21::PS1-r","phase":30,"flux":0.01235},
      {"band":"K21::PS1-r","phase":32,"flux":0.01190},{"band":"K21::PS1-r","phase":34,"flux":0.01140},
      {"band":"K21::PS1-r","phase":36,"flux":0.01110},{"band":"K21::PS1-r","phase":38,"flux":0.01090},
      {"band":"K21::PS1-r","phase":40,"flux":0.01080},{"band":"K21::PS1-r","phase":41.8,"flux":0.01072},
      {"band":"K21::PS1-i","phase":0,"flux":0.02742},{"band":"K21::PS1-i","phase":1,"flux":0.02730},
      {"band":"K21::PS1-i","phase":2,"flux":0.02715},{"band":"K21::PS1-i","phase":3,"flux":0.02700},
      {"band":"K21::PS1-i","phase":4,"flux":0.02680},{"band":"K21::PS1-i","phase":5,"flux":0.02650},
      {"band":"K21::PS1-i","phase":6,"flux":0.02595},{"band":"K21::PS1-i","phase":7,"flux":0.02535},
      {"band":"K21::PS1-i","phase":8,"flux":0.02490},{"band":"K21::PS1-i","phase":9,"flux":0.02450},
      {"band":"K21::PS1-i","phase":10,"flux":0.02410},{"band":"K21::PS1-i","phase":11,"flux":0.02375},
      {"band":"K21::PS1-i","phase":12,"flux":0.02345},{"band":"K21::PS1-i","phase":13,"flux":0.02330},
      {"band":"K21::PS1-i","phase":14,"flux":0.02330},{"band":"K21::PS1-i","phase":15,"flux":0.02350},
      {"band":"K21::PS1-i","phase":16,"flux":0.02375},{"band":"K21::PS1-i","phase":17,"flux":0.02395},
      {"band":"K21::PS1-i","phase":18,"flux":0.02407},{"band":"K21::PS1-i","phase":19,"flux":0.02413},
      {"band":"K21::PS1-i","phase":20,"flux":0.02415},{"band":"K21::PS1-i","phase":21,"flux":0.02413},
      {"band":"K21::PS1-i","phase":22,"flux":0.02405},{"band":"K21::PS1-i","phase":23,"flux":0.02390},
      {"band":"K21::PS1-i","phase":24,"flux":0.02370},{"band":"K21::PS1-i","phase":26,"flux":0.02320},
      {"band":"K21::PS1-i","phase":28,"flux":0.02270},{"band":"K21::PS1-i","phase":30,"flux":0.02220},
      {"band":"K21::PS1-i","phase":32,"flux":0.02165},{"band":"K21::PS1-i","phase":34,"flux":0.02110},
      {"band":"K21::PS1-i","phase":36,"flux":0.02075},{"band":"K21::PS1-i","phase":38,"flux":0.02058},
      {"band":"K21::PS1-i","phase":40,"flux":0.02050},{"band":"K21::PS1-i","phase":41.8,"flux":0.02047}
    ]
  },
  "columns": 2,
  "spacing": {"row": 27, "column": 72},
  "bounds": "flush",
  "align": "each",
  "resolve": {
    "scale": {"x": "independent", "y": "independent", "color": "independent", "stroke": "independent"},
    "axis": {"x": "independent", "y": "independent"},
    "legend": {"color": "independent", "stroke": "independent"}
  },
  "concat": [
    {
      "width": 361, "height": 447,
      "title": {"text": "spectra"},
      "data": {"name": "spec"},
      "layer": [
        {
          "mark": {"type": "errorbar", "ticks": false, "color": "#000080", "opacity": 0.45, "thickness": 1},
          "encoding": {
            "x": {"field": "w", "type": "quantitative",
                  "scale": {"domain": [3130, 9170], "nice": false, "zero": false},
                  "axis": {"values": [4000, 5000, 6000, 7000, 8000, 9000], "format": "d", "title": null}},
            "y": {"field": "f", "type": "quantitative", "title": "Flux + offset",
                  "scale": {"domain": [-0.00106, 0.00321], "nice": false, "zero": false, "clamp": true},
                  "axis": {"values": [-0.001, -0.0005, 0, 0.0005, 0.001, 0.0015, 0.002, 0.0025, 0.003], "format": ".4f", "title": "Flux + offset", "titleX": -62}},
            "yError": {"field": "e"}
          }
        },
        {
          "mark": {"type": "point", "filled": true, "size": 13, "opacity": 1},
          "encoding": {
            "x": {"field": "w", "type": "quantitative"},
            "y": {"field": "f", "type": "quantitative", "title": "Flux + offset"},
            "color": {"datum": "phase : -1.21", "type": "nominal",
                      "scale": {"range": ["#000080"]},
                      "legend": {"title": null, "orient": "top-right", "offset": 5, "symbolSize": 81, "labelOffset": 17, "padding": 6,
                                 "symbolType": "M-0.1,-1H0.1V1H-0.1Z M-0.3,0A0.3,0.3 0 1,1 0.3,0A0.3,0.3 0 1,1 -0.3,0Z"}}
          }
        }
      ]
    },
    {
      "width": 353, "height": 447,
      "title": {"text": "Light Curves"},
      "layer": [
        {
          "data": {"name": "model"},
          "mark": {"type": "line", "strokeWidth": 1, "opacity": 0.7, "interpolate": "monotone"},
          "encoding": {
            "x": {"field": "phase", "type": "quantitative", "title": "Phase (days)",
                  "scale": {"domain": [-1.42, 43.0], "nice": false, "zero": false},
                  "axis": {"values": [0, 10, 20, 30, 40], "format": "d", "title": null}},
            "y": {"field": "flux", "type": "quantitative", "title": "Flux + offset",
                  "scale": {"domain": [-0.00064, 0.02872], "nice": false, "zero": false},
                  "axis": {"values": [0, 0.005, 0.01, 0.015, 0.02, 0.025], "format": ".3f", "title": "Flux + offset", "titleX": -47}},
            "stroke": {"field": "band", "type": "nominal",
                       "scale": {"range": ["#00bfff", "#ff4000", "#ffe600"]},
                       "legend": null}
          }
        },
        {
          "data": {"name": "lc"},
          "mark": {"type": "errorbar", "ticks": false, "thickness": 1.5},
          "encoding": {
            "x": {"field": "phase", "type": "quantitative", "title": "Phase (days)"},
            "y": {"field": "flux", "type": "quantitative", "title": "Flux + offset"},
            "yError": {"field": "err"},
            "stroke": {"field": "band", "type": "nominal", "legend": null}
          }
        },
        {
          "data": {"name": "lc"},
          "mark": {"type": "point", "filled": true, "size": 22, "opacity": 1},
          "encoding": {
            "x": {"field": "phase", "type": "quantitative", "title": "Phase (days)"},
            "y": {"field": "flux", "type": "quantitative", "title": "Flux + offset"},
            "color": {"field": "band", "type": "nominal",
                      "scale": {"domain": ["K21::PS1-g", "K21::PS1-r", "K21::PS1-i"], "range": ["#00bfff", "#ffe600", "#ff4000"]},
                      "legend": {"title": null, "orient": "top-right", "offset": 5, "symbolSize": 144, "labelOffset": 14, "rowPadding": 4,
                                 "symbolType": "M-0.1,-1H0.1V1H-0.1Z M-0.3,0A0.3,0.3 0 1,1 0.3,0A0.3,0.3 0 1,1 -0.3,0Z"}}
          }
        }
      ]
    },
    {
      "width": 361, "height": 131,
      "data": {"name": "spec"},
      "layer": [
        {
          "mark": {"type": "errorbar", "ticks": false, "color": "#000080", "opacity": 0.45, "thickness": 1},
          "encoding": {
            "x": {"field": "w", "type": "quantitative", "title": "Wavelength (Å)",
                  "scale": {"domain": [3130, 9170], "nice": false, "zero": false},
                  "axis": {"values": [4000, 5000, 6000, 7000, 8000, 9000], "format": "d", "title": "Wavelength (Å)"}},
            "y": {"field": "r", "type": "quantitative", "title": "Residuals",
                  "scale": {"domain": [-0.0008, 0.000815], "nice": false, "zero": false, "clamp": true},
                  "axis": {"values": [-0.0005, 0, 0.0005], "format": ".4f", "title": "Residuals", "titleX": -60}},
            "yError": {"field": "e"}
          }
        },
        {
          "mark": {"type": "point", "filled": true, "size": 13, "opacity": 1, "color": "#000080"},
          "encoding": {
            "x": {"field": "w", "type": "quantitative", "title": "Wavelength (Å)"},
            "y": {"field": "r", "type": "quantitative", "title": "Residuals"}
          }
        }
      ]
    },
    {
      "width": 353, "height": 131,
      "data": {"name": "lc"},
      "layer": [
        {
          "mark": {"type": "errorbar", "ticks": false, "thickness": 1, "opacity": 0.55},
          "encoding": {
            "x": {"field": "phase", "type": "quantitative", "title": "Phase (days)",
                  "scale": {"domain": [-1.42, 43.0], "nice": false, "zero": false},
                  "axis": {"values": [0, 10, 20, 30, 40], "format": "d", "title": "Phase (days)"}},
            "y": {"field": "resid", "type": "quantitative", "title": "Residuals",
                  "scale": {"domain": [-0.000393, 0.000406], "nice": false, "zero": false, "clamp": true},
                  "axis": {"values": [-0.0002, 0, 0.0002, 0.0004], "format": ".4f", "title": "Residuals", "titleX": -62}},
            "yError": {"field": "err"},
            "color": {"field": "band", "type": "nominal",
                      "scale": {"domain": ["K21::PS1-g", "K21::PS1-r", "K21::PS1-i"], "range": ["#00bfff", "#ffe600", "#ff4000"]},
                      "legend": null}
          }
        },
        {
          "mark": {"type": "point", "filled": true, "size": 8, "opacity": 0.8},
          "encoding": {
            "x": {"field": "phase", "type": "quantitative", "title": "Phase (days)"},
            "y": {"field": "resid", "type": "quantitative", "title": "Residuals"},
            "color": {"field": "band", "type": "nominal", "legend": null}
          }
        }
      ]
    }
  ]
}
